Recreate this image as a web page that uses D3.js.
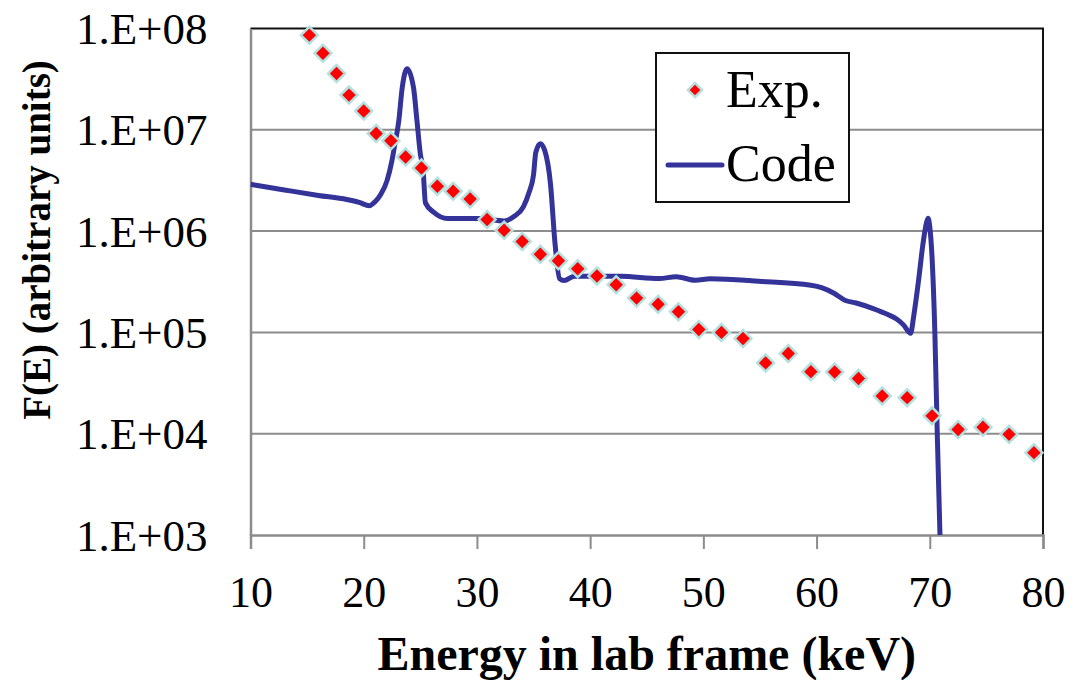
<!DOCTYPE html>
<html>
<head>
<meta charset="utf-8">
<script src="https://cdn.jsdelivr.net/npm/d3@7"></script>
<style>
  html, body { margin: 0; padding: 0; background: #ffffff; }
  svg { display: block; }
  text { font-family: "Liberation Serif", "Times New Roman", serif; fill: #000; }
</style>
</head>
<body>
<svg id="chart" width="1084" height="680"></svg>
<script>
// Measured spectrum (diamond markers): energy in keV and F(E)
const expEnergy = [15.2, 16.4, 17.6, 18.7, 20.0, 21.1, 22.4, 23.7, 25.1, 26.5,
                   27.9, 29.4, 30.9, 32.4, 34.0, 35.6, 37.2, 38.9, 40.6, 42.3,
                   44.1, 46.0, 47.8, 49.6, 51.6, 53.5, 55.5, 57.5, 59.5, 61.6,
                   63.7, 65.8, 68.0, 70.2, 72.5, 74.7, 77.0, 79.2];
const expValue  = [8.6e7, 5.7e7, 3.6e7, 2.2e7, 1.53e7, 9.2e6, 7.8e6, 5.4e6, 4.2e6, 2.77e6,
                   2.47e6, 2.07e6, 1.3e6, 1.02e6, 7.9e5, 5.9e5, 5.1e5, 4.25e5, 3.6e5, 2.95e5,
                   2.18e5, 1.9e5, 1.6e5, 1.07e5, 1.0e5, 8.7e4, 5.0e4, 6.2e4, 4.1e4, 4.07e4,
                   3.5e4, 2.36e4, 2.27e4, 1.5e4, 1.1e4, 1.16e4, 9.85e3, 6.5e3];

// Calculated spectrum (solid line)
const codeEnergy = [10, 13, 16, 18.5, 19.6, 20.5, 21.0, 21.5, 22.06, 22.5,
                    22.7, 23.1, 23.4, 23.83, 24.4, 24.7, 25.0, 25.25, 25.45, 26.2,
                    27.4, 30.3, 32.4, 33.3, 34.1, 34.6, 35.0, 35.2, 35.6, 36.0,
                    36.5, 36.9, 37.3, 37.7, 38.6, 42.7, 46.1, 47.6, 49.3, 50.6,
                    54.9, 59.5, 60.5, 61.5, 62.5, 63.5, 65.0, 66.3, 67.1, 67.7,
                    68.3, 68.6, 69.0, 69.4, 69.7, 69.85, 70.0, 70.2, 70.45, 70.66,
                    70.9, 71.0];
const codeValue  = [2.9e6, 2.55e6, 2.25e6, 2.05e6, 1.92e6, 1.78e6, 1.95e6, 2.3e6, 3.15e6, 5.0e6,
                    6.7e6, 1.23e7, 2.6e7, 4.0e7, 2.6e7, 1.24e7, 5.8e6, 3.95e6, 1.9e6, 1.53e6,
                    1.33e6, 1.33e6, 1.26e6, 1.4e6, 1.73e6, 2.4e6, 3.6e6, 6.0e6, 7.3e6, 6.2e6,
                    2.9e6, 7.5e5, 3.4e5, 3.25e5, 3.58e5, 3.58e5, 3.4e5, 3.55e5, 3.27e5, 3.38e5,
                    3.2e5, 2.92e5, 2.75e5, 2.45e5, 2.08e5, 1.95e5, 1.72e5, 1.5e5, 1.35e5, 1.18e5,
                    9.8e4, 1.5e5, 3.2e5, 7.5e5, 1.2e6, 1.34e6, 1.1e6, 5.5e5, 9.8e4, 1.0e4,
                    1.0e3, 4.0e2];

const xTicks = [10, 20, 30, 40, 50, 60, 70, 80];
const yTicks = [1e3, 1e4, 1e5, 1e6, 1e7, 1e8];
const yTickLabels = ["1.E+03", "1.E+04", "1.E+05", "1.E+06", "1.E+07", "1.E+08"];

const seriesNames = ["Exp.", "Code"];

const svg = d3.select("#chart");
const plot = { left: 250.5, right: 1043, top: 28.5, bottom: 535 };

const x = d3.scaleLinear().domain([10, 80]).range([plot.left, plot.right]);
const y = d3.scaleLog().domain([1e3, 1e8]).range([plot.bottom, plot.top]);

const serif = "\"Liberation Serif\", \"Times New Roman\", serif";

// Horizontal gridlines
svg.append("g")
  .selectAll("line")
  .data(yTicks.slice(1, -1))
  .join("line")
  .attr("x1", plot.left).attr("x2", plot.right)
  .attr("y1", d => y(d)).attr("y2", d => y(d))
  .attr("stroke", "#8c8c8c").attr("stroke-width", 2);

// Plot frame (top and right edges)
svg.append("path")
  .attr("d", `M${plot.left},${plot.top}H${plot.right}V${plot.bottom}`)
  .attr("fill", "none").attr("stroke", "#111").attr("stroke-width", 2);

// X axis
const xAxis = svg.append("g")
  .attr("transform", `translate(0,${plot.bottom})`)
  .call(d3.axisBottom(x).tickValues(xTicks).tickSize(14).tickFormat(d3.format("d")));
xAxis.select(".domain").attr("stroke", "#8c8c8c").attr("stroke-width", 2.5);
xAxis.selectAll(".tick line").attr("stroke", "#8c8c8c").attr("stroke-width", 2);
xAxis.selectAll(".tick text")
  .attr("y", 0).attr("dy", 0)
  .attr("transform", "translate(0,72)")
  .style("font-family", serif)
  .style("font-size", "44px").attr("fill", "#000");

// Y axis
const yAxis = svg.append("g")
  .attr("transform", `translate(${plot.left},0)`)
  .call(d3.axisLeft(y).tickValues(yTicks).tickSize(0)
        .tickFormat((d, i) => yTickLabels[i]));
yAxis.select(".domain").attr("stroke", "#8c8c8c").attr("stroke-width", 2.5);
yAxis.selectAll(".tick text")
  .attr("x", -43).attr("dy", 0)
  .attr("transform", "translate(0,15)")
  .style("font-family", serif)
  .style("font-size", "45px").attr("fill", "#000");

// Axis titles
svg.append("text")
  .attr("x", (plot.left + plot.right) / 2).attr("y", 670)
  .attr("text-anchor", "middle")
  .style("font-family", serif)
  .style("font-size", "48px").style("font-weight", "bold")
  .text("Energy in lab frame (keV)");

svg.append("text")
  .attr("transform", "translate(50,240) rotate(-90)")
  .attr("text-anchor", "middle")
  .style("font-family", serif)
  .style("font-size", "39px").style("font-weight", "bold")
  .text("F(E) (arbitrary units)");

// Clip region for the plotted data
svg.append("clipPath").attr("id", "plot-clip")
  .append("rect")
  .attr("x", plot.left).attr("y", plot.top - 12)
  .attr("width", plot.right - plot.left + 12)
  .attr("height", plot.bottom - plot.top + 12);

const lineColor = "#333399";
const diamondFill = "#ff0000";
const diamondEdge = "#b4e0e0";

// Calculated curve
const codeData = codeEnergy.map((e, i) => ({ e, v: codeValue[i] }));
svg.append("path")
  .datum(codeData)
  .attr("clip-path", "url(#plot-clip)")
  .attr("fill", "none")
  .attr("stroke", lineColor)
  .attr("stroke-width", 5)
  .attr("stroke-linejoin", "round")
  .attr("d", d3.line().x(d => x(d.e)).y(d => y(d.v)).curve(d3.curveMonotoneX));

// Measured points
const diamond = d3.symbol().type(d3.symbolSquare).size(144);
const expData = expEnergy.map((e, i) => ({ e, v: expValue[i] }));
svg.append("g")
  .selectAll("path")
  .data(expData)
  .join("path")
  .attr("d", diamond)
  .attr("transform", d => `translate(${x(d.e)},${y(d.v)}) rotate(45)`)
  .attr("fill", diamondFill)
  .attr("stroke", diamondEdge)
  .attr("stroke-width", 2.5);

// Legend
const legend = svg.append("g");
legend.append("rect")
  .attr("x", 656).attr("y", 53).attr("width", 193).attr("height", 149)
  .attr("fill", "#fff").attr("stroke", "#111").attr("stroke-width", 2);
legend.append("path")
  .attr("d", d3.symbol().type(d3.symbolSquare).size(100))
  .attr("transform", "translate(695,90) rotate(45)")
  .attr("fill", diamondFill).attr("stroke", diamondEdge).attr("stroke-width", 2.5);
legend.append("text")
  .attr("x", 726).attr("y", 107)
  .style("font-family", serif)
  .style("font-size", "52px")
  .text(seriesNames[0]);
legend.append("line")
  .attr("x1", 668).attr("x2", 722).attr("y1", 165).attr("y2", 165)
  .attr("stroke", lineColor).attr("stroke-width", 5).attr("stroke-linecap", "round");
legend.append("text")
  .attr("x", 726).attr("y", 181)
  .style("font-family", serif)
  .style("font-size", "52px")
  .text(seriesNames[1]);
</script>
</body>
</html>
